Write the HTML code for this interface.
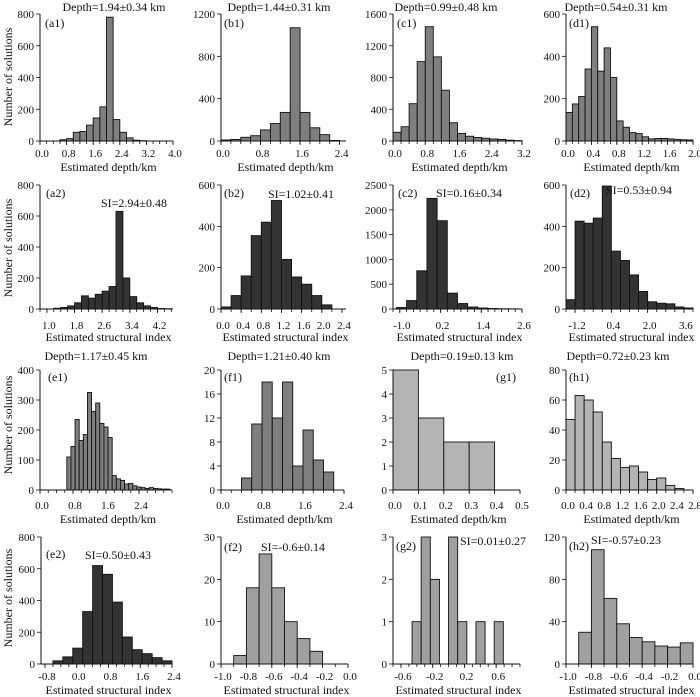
<!DOCTYPE html>
<html><head><meta charset="utf-8"><style>
html,body{margin:0;padding:0;background:#fff;}
svg{display:block;font-family:"Liberation Serif",serif;}
</style></head><body>
<svg id="fig" width="700" height="697" viewBox="0 0 700 697"></svg>
<script>
// ---- data arrays ----
const a1Counts=[0,0,0,8,15,55,60,100,145,215,780,135,55,20,5,2,0,0,0,0];
const b1Counts=[10,15,35,50,105,165,270,1070,270,125,60,5];
const c1Counts=[110,180,470,1000,1440,1060,640,230,95,60,45,35,25,20,10,5];
const d1Counts=[135,175,210,340,540,330,440,300,95,65,40,35,20,10,12,12,10,8,6,5];
const a2Counts=[5,10,20,40,85,70,95,115,145,630,200,80,40,20,10,3,2];
const b2Counts=[10,65,160,355,420,525,240,155,120,65,20];
const c2Counts=[30,170,770,2230,1780,320,110,40,20,10,5,3];
const d2Counts=[45,425,415,440,595,280,235,165,85,35,28,25,10,5];
const e1Counts=[110,145,235,165,185,325,262,290,222,210,175,48,37,32,20,22,14,10,8,5,8,5,4,3,3];
const f1Counts=[2,11,18,12,18,4,10,5,3];
const g1Counts=[5,3,2,2,0];
const h1Counts=[47,63,60,52,32,21,15,16,12,7,8,3,1];
const e2Counts=[20,45,100,330,620,565,390,170,90,65,40,20];
const f2Counts=[2,18,26,18,10,6,3];
const g2Counts=[1,3,2,0,3,1,0,1,0,1];
const h2Counts=[30,108,62,38,25,21,17,16,20];

const a1XTicks=[0,0.8,1.6,2.4,3.2,4.0], a1YTicks=[0,200,400,600,800];
const b1XTicks=[0,0.8,1.6,2.4], b1YTicks=[0,400,800,1200];
const c1XTicks=[0,0.8,1.6,2.4,3.2], c1YTicks=[0,400,800,1200,1600];
const d1XTicks=[0,0.4,0.8,1.2,1.6,2.0], d1YTicks=[0,200,400,600];
const a2XTicks=[1.0,1.8,2.6,3.4,4.2], a2YTicks=[0,200,400,600,800];
const b2XTicks=[0,0.4,0.8,1.2,1.6,2.0,2.4], b2YTicks=[0,200,400,600];
const c2XTicks=[-1.0,0.2,1.4,2.6], c2YTicks=[0,500,1000,1500,2000,2500];
const d2XTicks=[-1.2,0.4,2.0,3.6], d2YTicks=[0,200,400,600];
const e1XTicks=[0,0.8,1.6,2.4], e1YTicks=[0,100,200,300,400];
const f1XTicks=[0,0.8,1.6,2.4], f1YTicks=[0,4,8,12,16,20];
const g1XTicks=[0,0.1,0.2,0.3,0.4,0.5], g1YTicks=[0,1,2,3,4,5];
const h1XTicks=[0,0.4,0.8,1.2,1.6,2.0,2.4,2.8], h1YTicks=[0,20,40,60,80];
const e2XTicks=[-0.8,0,0.8,1.6,2.4], e2YTicks=[0,200,400,600,800];
const f2XTicks=[-1.0,-0.8,-0.6,-0.4,-0.2,0.0], f2YTicks=[0,10,20,30];
const g2XTicks=[-0.6,-0.2,0.2,0.6], g2YTicks=[0,1,2,3];
const h2XTicks=[-1.0,-0.8,-0.6,-0.4,-0.2,0.0], h2YTicks=[0,40,80,120];

const svg=document.getElementById('fig');
const NS='http://www.w3.org/2000/svg';
function mk(tag,attrs,parent){const e=document.createElementNS(NS,tag);for(const k in attrs)e.setAttribute(k,attrs[k]);(parent||svg).appendChild(e);return e;}

const rows=[
 {top:14,zero:141,lab:157,xt:171},
 {top:185,zero:309,lab:329,xt:341},
 {top:370,zero:490,lab:509,xt:523},
 {top:537,zero:664,lab:680,xt:694}
];
const D='Estimated depth/km', S='Estimated structural index';
const panels=[
 {id:'a1',r:0,left:40,right:173,xmin:0,xmax:4,ymax:800,start:0,w:0.2,minor:0.2,counts:a1Counts,xt:a1XTicks,yt:a1YTicks,fill:'#7f7f7f',xtitle:D,title:'Depth=1.94±0.34 km',tx:114,pl:'(a1)',plx:45,ply:27,dec:1},
 {id:'b1',r:0,left:221,right:346,xmin:0,xmax:2.53,ymax:1200,start:0,w:0.2,minor:0.2,counts:b1Counts,xt:b1XTicks,yt:b1YTicks,fill:'#7f7f7f',xtitle:D,title:'Depth=1.44±0.31 km',tx:279,pl:'(b1)',plx:224,ply:27,dec:1},
 {id:'c1',r:0,left:393,right:522,xmin:0,xmax:3.2,ymax:1600,start:0,w:0.2,minor:0.2,counts:c1Counts,xt:c1XTicks,yt:c1YTicks,fill:'#7f7f7f',xtitle:D,title:'Depth=0.99±0.48 km',tx:446,pl:'(c1)',plx:397,ply:27,dec:1},
 {id:'d1',r:0,left:566,right:693,xmin:0,xmax:2.0,ymax:600,start:0,w:0.1,minor:0.1,counts:d1Counts,xt:d1XTicks,yt:d1YTicks,fill:'#7f7f7f',xtitle:D,title:'Depth=0.54±0.31 km',tx:616,pl:'(d1)',plx:569,ply:27,dec:1},
 {id:'a2',r:1,left:40,right:173,xmin:0.8,xmax:4.65,ymax:800,start:1.2,w:0.2,minor:0.2,counts:a2Counts,xt:a2XTicks,yt:a2YTicks,fill:'#333333',xtitle:S,si:'SI=2.94±0.48',six:134,siy:207,pl:'(a2)',plx:46,ply:197,dec:1},
 {id:'b2',r:1,left:221,right:346,xmin:0,xmax:2.48,ymax:600,start:0,w:0.2,minor:0.2,counts:b2Counts,xt:b2XTicks,yt:b2YTicks,fill:'#333333',xtitle:S,si:'SI=1.02±0.41',six:301,siy:198,pl:'(b2)',plx:224,ply:197,dec:1},
 {id:'c2',r:1,left:393,right:522,xmin:-1.2,xmax:2.6,ymax:2500,start:-1.1,w:0.3,minor:0.2,counts:c2Counts,xt:c2XTicks,yt:c2YTicks,fill:'#333333',xtitle:S,si:'SI=0.16±0.34',six:469,siy:197,pl:'(c2)',plx:398,ply:197,dec:1},
 {id:'d2',r:1,left:566,right:693,xmin:-1.6,xmax:4.0,ymax:600,start:-1.6,w:0.4,minor:0.4,counts:d2Counts,xt:d2XTicks,yt:d2YTicks,fill:'#333333',xtitle:S,si:'SI=0.53±0.94',six:639,siy:194,pl:'(d2)',plx:570,ply:197,dec:1},
 {id:'e1',r:2,left:40,right:172,xmin:0,xmax:3.2,ymax:400,start:0.65,w:0.1,minor:0.2,counts:e1Counts,xt:e1XTicks,yt:e1YTicks,fill:'#7f7f7f',xtitle:D,title:'Depth=1.17±0.45 km',tx:96,pl:'(e1)',plx:48,ply:381,dec:1},
 {id:'f1',r:2,left:221,right:344,xmin:0,xmax:2.4,ymax:20,start:0.4,w:0.2,minor:0.2,counts:f1Counts,xt:f1XTicks,yt:f1YTicks,fill:'#7f7f7f',xtitle:D,title:'Depth=1.21±0.40 km',tx:279,pl:'(f1)',plx:224,ply:381,dec:1},
 {id:'g1',r:2,left:393,right:520,xmin:0,xmax:0.5,ymax:5,start:0,w:0.1,minor:0.1,counts:g1Counts,xt:g1XTicks,yt:g1YTicks,fill:'#b4b4b4',xtitle:D,title:'Depth=0.19±0.13 km',tx:462,pl:'(g1)',plx:496,ply:381,dec:1},
 {id:'h1',r:2,left:566,right:693,xmin:0,xmax:2.8,ymax:80,start:0,w:0.2,minor:0.2,counts:h1Counts,xt:h1XTicks,yt:h1YTicks,fill:'#b4b4b4',xtitle:D,title:'Depth=0.72±0.23 km',tx:618,pl:'(h1)',plx:569,ply:381,dec:1},
 {id:'e2',r:3,left:41,right:172,xmin:-0.9,xmax:2.4,ymax:800,start:-0.6,w:0.25,minor:0.2,counts:e2Counts,xt:e2XTicks,yt:e2YTicks,fill:'#333333',xtitle:S,si:'SI=0.50±0.43',six:118,siy:559,pl:'(e2)',plx:46,ply:558,dec:1},
 {id:'f2',r:3,left:221,right:348,xmin:-1.0,xmax:0,ymax:30,start:-0.9,w:0.1,minor:0.1,counts:f2Counts,xt:f2XTicks,yt:f2YTicks,fill:'#a0a0a0',xtitle:S,si:'SI=-0.6±0.14',six:293,siy:551,pl:'(f2)',plx:224,ply:551,dec:1},
 {id:'g2',r:3,left:393,right:520,xmin:-0.7,xmax:0.9,ymax:3,start:-0.46,w:0.115,minor:0.1,counts:g2Counts,xt:g2XTicks,yt:g2YTicks,fill:'#a0a0a0',xtitle:S,si:'SI=0.01±0.27',six:493,siy:545,pl:'(g2)',plx:396,ply:550,dec:1},
 {id:'h2',r:3,left:566,right:693,xmin:-1.0,xmax:0,ymax:120,start:-0.9,w:0.1,minor:0.1,counts:h2Counts,xt:h2XTicks,yt:h2YTicks,fill:'#a0a0a0',xtitle:S,si:'SI=-0.57±0.23',six:626,siy:544,pl:'(h2)',plx:569,ply:550,dec:1}
];

panels.forEach(p=>{
  const row=rows[p.r];
  const g=mk('g',{});
  
  
  const xs=v=>p.left+(v-p.xmin)/(p.xmax-p.xmin)*(p.right-p.left);
  const ys=v=>row.zero-v/p.ymax*(row.zero-row.top);
  p.counts.forEach((c,i)=>{
    const x0=xs(p.start+i*p.w), x1=xs(p.start+(i+1)*p.w);
    const y=ys(c);
    const b=mk('rect',{x:x0.toFixed(2),y:y.toFixed(2),width:(x1-x0).toFixed(2),height:Math.max(0,row.zero-y).toFixed(2),fill:p.fill,stroke:'#111',"stroke-width":0.9},g);
    
    
  });
  const xa=mk('line',{x1:p.left,y1:row.zero,x2:p.right,y2:row.zero,stroke:'#111',"stroke-width":1},g);
  
  
  const ya=mk('line',{x1:p.left,y1:row.top,x2:p.left,y2:row.zero,stroke:'#111',"stroke-width":1},g);
  
  
  const first=Math.ceil(p.xmin/p.minor-1e-6)*p.minor;
  for(let v=first; v<=p.xmax+1e-6; v+=p.minor){
    const x=xs(v);
    mk('line',{x1:x,y1:row.zero,x2:x,y2:row.zero+3,stroke:'#111',"stroke-width":0.8},g);
  }
  p.xt.forEach(v=>{
    const x=xs(v);
    mk('line',{x1:x,y1:row.zero,x2:x,y2:row.zero+4,stroke:'#111',"stroke-width":0.8},g);
    const t=mk('text',{x:x+2,y:row.lab,"font-size":11,"text-anchor":"middle",fill:'#111'},g);
    t.textContent=v.toFixed(p.dec);
    
    
  });
  p.yt.forEach(v=>{
    const y=ys(v);
    mk('line',{x1:p.left-4,y1:y,x2:p.left,y2:y,stroke:'#111',"stroke-width":0.8},g);
    const t=mk('text',{x:p.left-6,y:y+4,"font-size":11,"text-anchor":"end",fill:'#111'},g);
    t.textContent=String(v);
    
    
  });
  const xt=mk('text',{x:(p.left+p.right)/2+2,y:row.xt,"font-size":12,"text-anchor":"middle",fill:'#111'},g);
  xt.textContent=p.xtitle;
  
  
  if(p.title){
    const tt=mk('text',{x:p.tx,y:11,"font-size":12,"text-anchor":"middle",fill:'#111'},g);
    if(p.r===2) tt.setAttribute('y',360);
    tt.textContent=p.title;
    
    
  }
  if(p.si){
    const st=mk('text',{x:p.six,y:p.siy,"font-size":12,"text-anchor":"middle",fill:'#111'},g);
    st.textContent=p.si;
    
    
  }
  const pl=mk('text',{x:p.plx,y:p.ply,"font-size":12,fill:'#111'},g);
  pl.textContent=p.pl;
  
  
});
[77,248,425,598].forEach(cy=>{
  const t=mk('text',{x:0,y:0,"font-size":12,"text-anchor":"middle",fill:'#111',transform:'translate(12,'+cy+') rotate(-90)'});
  t.textContent='Number of solutions';
  
  
});
</script>
</body></html>
